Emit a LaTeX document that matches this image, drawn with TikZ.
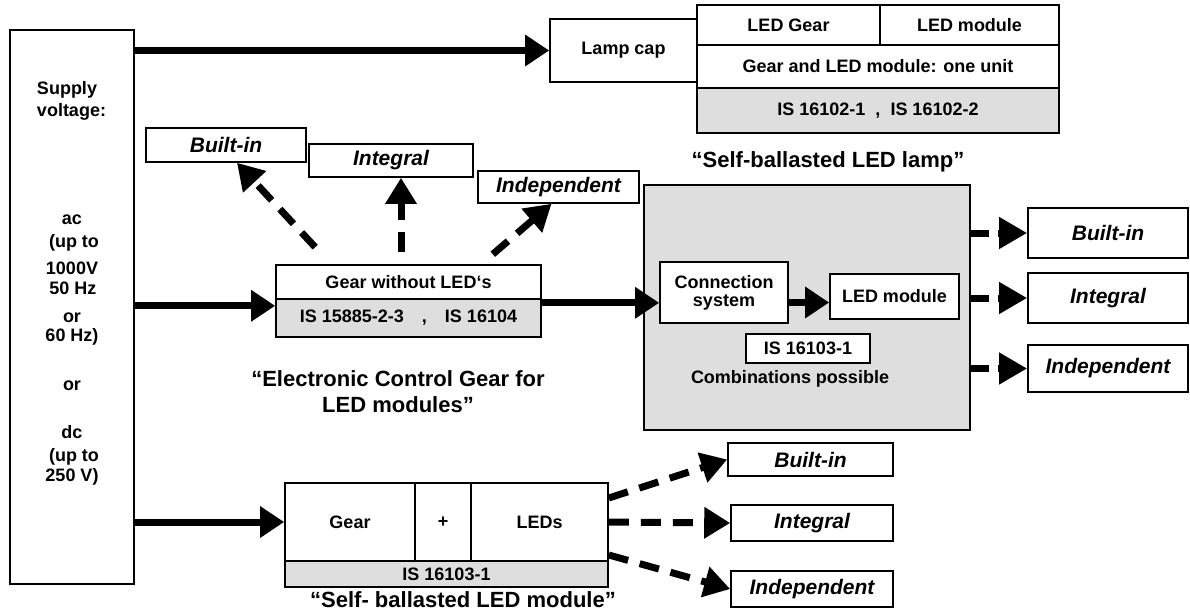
\documentclass[tikz,border=0pt]{standalone}
\usepackage{fontspec}
\setmainfont{Liberation Sans}
\usetikzlibrary{arrows.meta,calc}

\tikzset{
  box/.style={draw, line width=1.6pt, inner sep=0pt, font=\fontsize{18}{21}\selectfont\bfseries},
  greybox/.style={box, fill=black!13},
  ibox/.style={box, font=\fontsize{21}{24}\selectfont\bfseries\itshape},
  txt/.style={inner sep=0pt, font=\fontsize{18}{21}\selectfont\bfseries},
  titletxt/.style={inner sep=0pt, align=center, font=\fontsize{22}{26}\selectfont\bfseries},
  feed/.style={line width=7pt, -{Triangle[length=24pt,width=30pt]}},
  opt/.style={line width=7pt, dash pattern=on 20pt off 12pt, -{Triangle[length=26pt,width=30pt]}},
}

\begin{document}
\begin{tikzpicture}[x=1pt,y=-1pt]
  \useasboundingbox (0,0) rectangle (1190,613);

  % supply voltage
  \node[box, minimum width=124, minimum height=554] (supply) at (72,307) {};
  \foreach \x/\y/\t [count=\i] in {67/90/Supply, 71.5/112/voltage:, 72/220/ac,
      74/243/{(up to}, 72/268/1000V, 73/288/50 Hz, 72/318/or, 72/337/{60 Hz)},
      72/386/or, 72/432/dc, 74/457/{(up to}, 72/477/{250 V)}}
    \node[txt] (sv\i) at (\x,\y) {\t};

  % self-ballasted lamp
  \node[box, minimum width=147, minimum height=63] (lampcap) at (623.5,50.5) {Lamp cap};
  \node[box, minimum width=183, minimum height=40] (ledgear) at (788.5,25) {LED Gear};
  \node[box, minimum width=179, minimum height=40] (ledmodule) at (969.5,25) {LED module};
  \node[box, minimum width=362, minimum height=43] (oneunit) at (878,66.5) {Gear and LED module: one unit};
  \node[greybox, minimum width=362, minimum height=45] (lampstd) at (878,110.5) {IS 16102-1 \ , \ IS 16102-2};
  \node[titletxt] (lamplabel) at (828,162) {“Self-ballasted LED lamp”};

  % control gear
  \node[box, minimum width=265, minimum height=34] (gearw) at (408.5,282) {Gear without LED‘s};
  \node[greybox, minimum width=265, minimum height=38] (gearstd) at (408.5,318) {IS 15885-2-3\quad,\quad IS 16104};
  \node[titletxt] (ecglabel) at (398,392) {“Electronic Control Gear for\\LED modules”};
  \node[ibox, minimum width=160, minimum height=34] (bi1) at (226,145) {Built-in};
  \node[ibox, minimum width=164, minimum height=33] (int1) at (391,160.5) {Integral};
  \node[ibox, minimum width=161, minimum height=32] (ind1) at (558.5,187) {Independent};

  % combinations
  \node[greybox, minimum width=326, minimum height=245] (combo) at (807,307.5) {};
  \node[box, fill=white, minimum width=128, minimum height=61, align=center,
        font=\fontsize{18}{18}\selectfont\bfseries] (conn) at (724,292.5) {Connection\\system};
  \node[box, fill=white, minimum width=129, minimum height=45] (ledm) at (894.5,296.5) {LED module};
  \node[box, fill=white, minimum width=124, minimum height=29] (combostd) at (808,348.5) {IS 16103-1};
  \node[txt] (combotxt) at (790,379) {Combinations possible};
  \node[ibox, minimum width=160, minimum height=50] (bi2) at (1108,233) {Built-in};
  \node[ibox, minimum width=160, minimum height=50] (int2) at (1108,298) {Integral};
  \node[ibox, minimum width=160, minimum height=47] (ind2) at (1108,368.5) {Independent};

  % self-ballasted module
  \node[box, minimum width=130, minimum height=78] (gear) at (350,522) {Gear};
  \node[box, minimum width=56, minimum height=78] (plus) at (443,522) {+};
  \node[box, minimum width=137, minimum height=78] (leds) at (539.5,522) {LEDs};
  \node[greybox, minimum width=323, minimum height=26] (modstd) at (446.5,574) {IS 16103-1};
  \node[titletxt] (modlabel) at (463,600) {“Self- ballasted LED module”};
  \node[ibox, minimum width=165, minimum height=33] (bi3) at (810.5,459.5) {Built-in};
  \node[ibox, minimum width=162, minimum height=36] (int3) at (812,523) {Integral};
  \node[ibox, minimum width=162, minimum height=36] (ind3) at (812,589) {Independent};

  % feeds
  \coordinate (gin) at ([yshift=-6pt]gearw.south west);
  \coordinate (gout) at ([yshift=-3pt]gearw.south east);
  \coordinate (cout) at ([yshift=-10pt]conn.east);
  \draw[feed] (supply.east |- lampcap.west) -- (lampcap.west);
  \draw[feed] (supply.east |- gin) -- (gin);
  \draw[feed] (supply.east |- gear.west) -- (gear.west);
  \draw[feed] (gout) -- (gout -| conn.west);
  \draw[feed] (cout) -- (cout -| ledm.west);

  % options
  \coordinate (ia) at ([xshift=10pt]int1.south);
  \draw[opt] ($(gearw.north west)+(40,-17)$) -- ([xshift=11pt]bi1.south);
  \draw[opt] ($(ia |- gearw.north)+(0,-12)$) -- (ia);
  \draw[opt] ($(gearw.north east)+(-49,-10)$) -- ([xshift=-7pt]ind1.south);
  \foreach \b in {bi2,int2,ind2}
    \draw[opt, dash pattern=on 18pt off 9pt, -{Triangle[length=28pt,width=30pt]}]
      (combo.east |- \b.west) -- (\b.west);
  \draw[opt] ([yshift=24pt]leds.east) -- (bi3.west);
  \draw[opt] (leds.east) -- (int3.west);
  \draw[opt] ([yshift=-33pt]leds.east) -- (ind3.west);
\end{tikzpicture}
\end{document}
